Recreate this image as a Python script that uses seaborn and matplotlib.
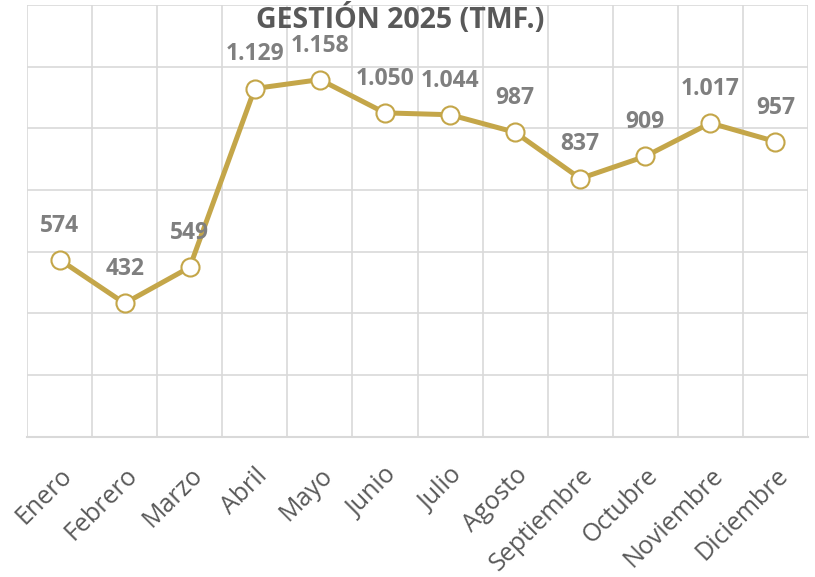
import pandas as pd
import matplotlib.pyplot as plt
import seaborn as sns
from matplotlib.ticker import MultipleLocator

# Datos
meses = ['Enero', 'Febrero', 'Marzo', 'Abril', 'Mayo', 'Junio', 'Julio',
         'Agosto', 'Septiembre', 'Octubre', 'Noviembre', 'Diciembre']
valores = [574, 432, 549, 1129, 1158, 1050, 1044, 987, 837, 909, 1017, 957]

df = pd.DataFrame({'mes': meses, 'valor': valores})
df['pos'] = range(len(meses))

sns.set_style('white')
plt.rcParams['font.family'] = ['Open Sans', 'DejaVu Sans']

color_linea = '#C4A649'
gris_grid = '#D9D9D9'

fig = plt.figure(figsize=(8.15, 5.77), dpi=100)
ax = fig.add_axes([27 / 815, 1 - 436.5 / 577, 781 / 815, 431.5 / 577])

sns.lineplot(data=df, x='pos', y='valor', ax=ax, color=color_linea, linewidth=3.6,
             marker='o', markersize=13, markerfacecolor='white',
             markeredgecolor=color_linea, markeredgewidth=1.5, zorder=3)

# Etiquetas de datos
for x, v in zip(df['pos'], df['valor']):
    txt = f'{v:,}'.replace(',', '.')
    ax.annotate(txt, (x, v), xytext=(0, 24.5), textcoords='offset points',
                ha='center', va='center', fontsize=16.5, fontweight='bold',
                color='#7F7F7F', zorder=4)

ax.set_xlim(-0.5, len(meses) - 0.5)
ax.set_ylim(0, 1400)
ax.yaxis.set_major_locator(MultipleLocator(200))
ax.set_yticklabels([])
ax.set_xticks(df['pos'])
ax.set_xticklabels(meses, rotation=45, ha='right', rotation_mode='anchor',
                   fontsize=18, color='#595959')
ax.set_xticks([i - 0.5 for i in range(len(meses) + 1)], minor=True)
ax.tick_params(axis='x', which='major', length=0, pad=19)
ax.tick_params(axis='both', which='minor', length=0)
ax.tick_params(axis='y', length=0)

ax.grid(axis='y', which='major', color=gris_grid, linewidth=1.2)
ax.grid(axis='x', which='minor', color=gris_grid, linewidth=1.2)
ax.grid(axis='x', which='major', visible=False)
ax.set_axisbelow(True)
for lado in ['top', 'right', 'left']:
    ax.spines[lado].set_visible(False)
ax.spines['bottom'].set_color(gris_grid)
ax.spines['bottom'].set_linewidth(1.5)
ax.set_xlabel('')
ax.set_ylabel('')

fig.text(400 / 815, 1 - 20 / 577, 'GESTIÓN 2025 (TMF.)', ha='center', va='center',
         fontsize=20.5, fontweight='bold', color='#595959')

fig.savefig('out.png', dpi=100)
